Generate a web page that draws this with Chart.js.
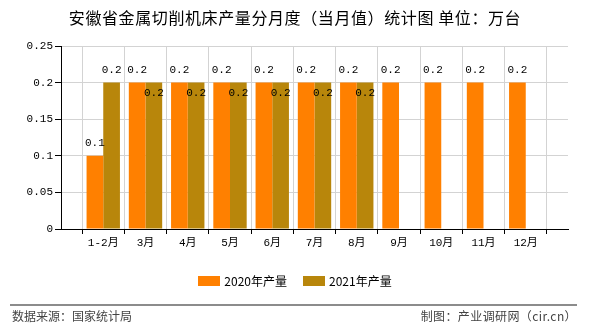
<!DOCTYPE html>
<html>
<head>
<meta charset="utf-8">
<script src="https://cdn.jsdelivr.net/npm/chart.js@4.4.0/dist/chart.umd.min.js"></script>
<style>
  html, body { margin: 0; padding: 0; background: #fff; }
  #wrap { position: relative; width: 590px; height: 330px; overflow: hidden; font-family: "Noto Sans CJK SC", "Noto Sans", sans-serif; }
  #c { position: absolute; left: 0; top: 0; }
  #title { position: absolute; left: 0; top: 5px; width: 590px; text-align: center; font-size: 16px; letter-spacing: 0.6px; color: #000; line-height: 24px; white-space: nowrap; }
  #legend { position: absolute; left: 0; top: 272px; width: 590px; display: flex; justify-content: center; font-size: 12px; color: #000; line-height: 18px; }
  .item { display: flex; align-items: center; margin: 0 8px; }
  .box { width: 22px; height: 10px; margin-right: 4px; }
  #line { position: absolute; left: 10px; top: 304px; width: 567px; height: 0; border-top: 2px solid #8c8c8c; }
  .foot { position: absolute; top: 307px; font-size: 12px; color: #444; line-height: 18px; white-space: nowrap; }
  #src { left: 12px; }
  #mk { right: 13px; letter-spacing: 0.4px; }
</style>
</head>
<body>
<div id="wrap">
  <canvas id="c" width="590" height="330"></canvas>
  <div id="title">安徽省金属切削机床产量分月度（当月值）统计图 单位：万台</div>
  <div id="legend"></div>
  <div id="line"></div>
  <div class="foot" id="src">数据来源：国家统计局</div>
  <div class="foot" id="mk">制图：产业调研网（cir.cn）</div>
</div>
<script>
const categories = ['1-2月', '3月', '4月', '5月', '6月', '7月', '8月', '9月', '10月', '11月', '12月'];
const series2020 = [0.1, 0.2, 0.2, 0.2, 0.2, 0.2, 0.2, 0.2, 0.2, 0.2, 0.2];
const series2021 = [0.2, 0.2, 0.2, 0.2, 0.2, 0.2, 0.2, null, null, null, null];
const seriesNames = ['2020年产量', '2021年产量'];
const seriesColors = ['#ff8000', '#b8860b'];
const yTicks = [0, 0.05, 0.1, 0.15, 0.2, 0.25];

const labels = [''].concat(categories, ['']);
const pad = arr => [null].concat(arr, [null]);

const monoFont = '"Liberation Mono", "Noto Sans CJK SC", monospace';

const labelPlugin = {
  id: 'valueLabels',
  afterDatasetsDraw(chart) {
    const ctx = chart.ctx;
    ctx.save();
    ctx.font = '11px ' + monoFont;
    ctx.fillStyle = '#000';
    ctx.textAlign = 'center';
    ctx.textBaseline = 'alphabetic';
    chart.data.datasets.forEach((ds, di) => {
      const meta = chart.getDatasetMeta(di);
      meta.data.forEach((bar, i) => {
        const v = ds.data[i];
        if (v === null || v === undefined) return;
        let inside = false;
        for (let k = 0; k < di; k++) {
          const o = chart.data.datasets[k].data[i];
          if (o !== null && o !== undefined && o === v) inside = true;
        }
        const y = inside ? bar.y + 13 : bar.y - 9.5;
        ctx.fillText(String(v), bar.x, y);
      });
    });
    ctx.restore();
  }
};

const chart = new Chart(document.getElementById('c'), {
  type: 'bar',
  data: {
    labels: labels,
    datasets: [
      { label: seriesNames[0], data: pad(series2020), backgroundColor: seriesColors[0], borderWidth: 0, categoryPercentage: 0.79, barPercentage: 1.0 },
      { label: seriesNames[1], data: pad(series2021), backgroundColor: seriesColors[1], borderWidth: 0, categoryPercentage: 0.79, barPercentage: 1.0 }
    ]
  },
  options: {
    responsive: false,
    animation: false,
    devicePixelRatio: 1,
    layout: { padding: { top: 46, right: 22, bottom: 81, left: 0 } },
    plugins: { legend: { display: false }, title: { display: false }, tooltip: { enabled: false } },
    scales: {
      x: {
        type: 'category',
        offset: false,
        grid: { display: true, color: '#d3d3d3', lineWidth: 1, drawTicks: true, tickLength: 5, tickColor: '#000' },
        border: { display: true, color: '#000', width: 1 },
        ticks: { color: '#000', font: { family: monoFont, size: 11 }, padding: 2, maxRotation: 0, autoSkip: false },
        afterFit(scale) { scale.height = 20; }
      },
      y: {
        min: 0,
        max: 0.25,
        afterBuildTicks(scale) { scale.ticks = yTicks.map(v => ({ value: v })); },
        grid: { display: true, color: '#d3d3d3', lineWidth: 1, drawTicks: true, tickLength: 6, tickColor: '#000' },
        border: { display: true, color: '#000', width: 1 },
        ticks: { color: '#000', font: { family: monoFont, size: 11 }, padding: 2, callback: v => String(+v.toFixed(2)) },
        afterFit(scale) { scale.width = 61; }
      }
    }
  },
  plugins: [labelPlugin]
});

const legend = document.getElementById('legend');
seriesNames.forEach((n, i) => {
  const it = document.createElement('div');
  it.className = 'item';
  const b = document.createElement('span');
  b.className = 'box';
  b.style.background = seriesColors[i];
  const t = document.createElement('span');
  t.textContent = n;
  it.appendChild(b); it.appendChild(t);
  legend.appendChild(it);
});
</script>
</body>
</html>
